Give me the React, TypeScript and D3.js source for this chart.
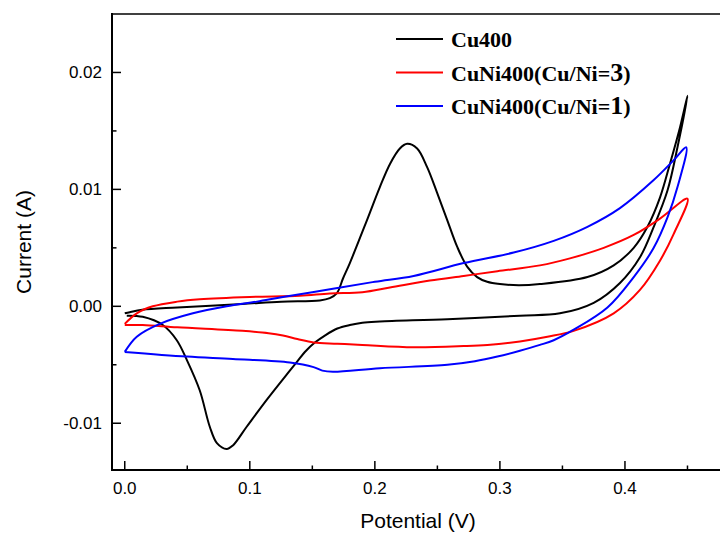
import * as d3 from "d3";

type Pt = [number, number];

// CV curves, potential (V) vs current (A), forward sweep then reverse sweep
const cu400: Pt[] = [
  [0.000, -0.0006], [0.004, -0.0005], [0.014, -0.0003], [0.042, -0.0001], [0.094, 0.0002],
  [0.125, 0.0004], [0.156, 0.0005], [0.164, 0.0007], [0.1695, 0.0011], [0.1746, 0.0024],
  [0.180, 0.0037], [0.1938, 0.0074], [0.204, 0.0102], [0.2122, 0.0122], [0.220, 0.0135],
  [0.2258, 0.0139], [0.2338, 0.0135], [0.2418, 0.0119], [0.2498, 0.0097], [0.2578, 0.0074],
  [0.2658, 0.0051], [0.2738, 0.0034], [0.2818, 0.0025], [0.2898, 0.0021], [0.300, 0.0019],
  [0.315, 0.0018], [0.332, 0.0019], [0.370, 0.0025], [0.391, 0.0035], [0.407, 0.0050],
  [0.418, 0.0068], [0.428, 0.0093], [0.436, 0.0122], [0.444, 0.0153], [0.450, 0.0180],
  [0.442, 0.0136], [0.434, 0.0099], [0.423, 0.0068], [0.412, 0.0042], [0.396, 0.0020],
  [0.375, 0.0003], [0.348, -0.0006], [0.316, -0.0008], [0.258, -0.0011], [0.204, -0.0013],
  [0.190, -0.0014], [0.180, -0.0016], [0.170, -0.0019], [0.160, -0.0025], [0.152, -0.0031],
  [0.145, -0.0038], [0.138, -0.0047], [0.132, -0.0055], [0.1135, -0.0080], [0.0975, -0.0103],
  [0.0865, -0.0119], [0.0815, -0.0122], [0.0737, -0.0117], [0.068, -0.0103], [0.060, -0.0072],
  [0.0497, -0.0046], [0.0416, -0.0029], [0.0304, -0.0016], [0.0144, -0.0009], [0.0016, -0.0008],
];

const cuNi3: Pt[] = [
  [0.000, -0.0015], [0.0096, -0.0006], [0.0224, 0.0000], [0.042, 0.0004], [0.060, 0.0006],
  [0.100, 0.0008], [0.140, 0.0009], [0.164, 0.0011], [0.190, 0.0012], [0.212, 0.0016],
  [0.244, 0.0022], [0.271, 0.0026], [0.298, 0.0030], [0.332, 0.0035], [0.356, 0.0041],
  [0.383, 0.0050], [0.407, 0.0061], [0.428, 0.0075], [0.450, 0.0092],
  [0.439, 0.0062], [0.428, 0.0039], [0.412, 0.0014], [0.391, -0.0006], [0.359, -0.0021],
  [0.338, -0.0026], [0.316, -0.0030], [0.290, -0.0033], [0.271, -0.0034], [0.231, -0.0035],
  [0.190, -0.0033], [0.170, -0.0032], [0.151, -0.0031], [0.138, -0.0028], [0.1265, -0.0025],
  [0.115, -0.0023], [0.094, -0.0021], [0.042, -0.0018], [0.0144, -0.0016], [0.000, -0.0016],
];

const cuNi1: Pt[] = [
  [0.000, -0.0039], [0.0096, -0.0026], [0.028, -0.0015], [0.0545, -0.0006], [0.0815, 0.0000],
  [0.1057, 0.0004], [0.1265, 0.0008], [0.1665, 0.0015], [0.200, 0.0021], [0.231, 0.0026],
  [0.271, 0.0037], [0.311, 0.0046], [0.343, 0.0056], [0.370, 0.0068], [0.396, 0.0084],
  [0.423, 0.0108], [0.439, 0.0125], [0.449, 0.0136],
  [0.442, 0.0102], [0.434, 0.0076], [0.423, 0.0050], [0.407, 0.0025], [0.386, -0.0001],
  [0.359, -0.0020], [0.343, -0.0029], [0.332, -0.0033], [0.316, -0.0038], [0.298, -0.0043],
  [0.280, -0.0047], [0.258, -0.0050], [0.204, -0.0053], [0.1665, -0.0056], [0.158, -0.0055],
  [0.151, -0.0052], [0.132, -0.0048], [0.0865, -0.0045], [0.0497, -0.0043], [0.000, -0.0039],
];

const seriesNames = ["Cu400", "CuNi400(Cu/Ni=", "CuNi400(Cu/Ni="];
const seriesSuffix = ["", "3", "1"];
const seriesColors = ["#000000", "#ff0000", "#0000ff"];
const seriesData = [cu400, cuNi3, cuNi1];

const xMajor = [0, 0.1, 0.2, 0.3, 0.4];
const xMinor = [0.05, 0.15, 0.25, 0.35, 0.45];
const yMajor = [-0.01, 0, 0.01, 0.02];
const yMinor = [-0.005, 0.005, 0.015];

export default function App() {
  const W = 720;
  const H = 536;
  const left = 112, right = 725, top = 14, bottom = 470;

  const x = d3.scaleLinear().domain([-0.0102, 0.48]).range([left, right]);
  const y = d3.scaleLinear().domain([-0.014, 0.025]).range([bottom, top]);

  const line = d3
    .line<Pt>()
    .x((d) => x(d[0]))
    .y((d) => y(d[1]))
    .curve(d3.curveCatmullRom.alpha(0.5));

  const tickFont = "'Liberation Sans', Arial, sans-serif";

  return (
    <svg
      width={W}
      height={H}
      style={{ position: "absolute", left: 0, top: 0, background: "#fff" }}
    >
      {seriesData.map((d, i) => (
        <path key={i} d={line(d) || ""} fill="none" stroke={seriesColors[i]} strokeWidth={2} />
      ))}

      {/* frame */}
      <line x1={left} x2={left} y1={top - 1} y2={bottom + 1} stroke="#000" strokeWidth={2} />
      <line x1={left - 1} x2={W} y1={bottom} y2={bottom} stroke="#000" strokeWidth={2} />
      <line x1={left - 1} x2={W} y1={top} y2={top} stroke="#000" strokeWidth={1.5} />

      {/* x ticks */}
      {xMajor.map((t) => (
        <g key={"xm" + t}>
          <line x1={x(t)} x2={x(t)} y1={bottom} y2={bottom - 9} stroke="#000" strokeWidth={1.5} />
          <text x={x(t)} y={494} textAnchor="middle" fontFamily={tickFont} fontSize={17}>
            {d3.format(".1f")(t)}
          </text>
        </g>
      ))}
      {xMinor.map((t) => (
        <line key={"xn" + t} x1={x(t)} x2={x(t)} y1={bottom} y2={bottom - 4.5} stroke="#000" strokeWidth={1.5} />
      ))}

      {/* y ticks */}
      {yMajor.map((t) => (
        <g key={"ym" + t}>
          <line x1={left} x2={left + 9} y1={y(t)} y2={y(t)} stroke="#000" strokeWidth={1.5} />
          <text x={102} y={y(t) + 6} textAnchor="end" fontFamily={tickFont} fontSize={17}>
            {d3.format(".2f")(t).replace("−", "-")}
          </text>
        </g>
      ))}
      {yMinor.map((t) => (
        <line key={"yn" + t} x1={left} x2={left + 4.5} y1={y(t)} y2={y(t)} stroke="#000" strokeWidth={1.5} />
      ))}

      {/* axis titles */}
      <text x={418} y={528} textAnchor="middle" fontFamily={tickFont} fontSize={21}>
        Potential (V)
      </text>
      <text
        transform={`translate(31,${(top + bottom) / 2}) rotate(-90)`}
        textAnchor="middle"
        fontFamily={tickFont}
        fontSize={21}
      >
        Current (A)
      </text>

      {/* legend */}
      {seriesNames.map((name, i) => {
        const ly = 39 + i * 33.5;
        return (
          <g key={"lg" + i}>
            <line x1={396} x2={443} y1={ly} y2={ly} stroke={seriesColors[i]} strokeWidth={2} />
            <text
              x={451}
              y={ly + 8}
              fontFamily="'Liberation Serif', 'Times New Roman', serif"
              fontWeight="bold"
              fontSize={22}
            >
              {name}
              {seriesSuffix[i] && <tspan fontSize={26}>{seriesSuffix[i]}</tspan>}
              {seriesSuffix[i] && ")"}
            </text>
          </g>
        );
      })}
    </svg>
  );
}
